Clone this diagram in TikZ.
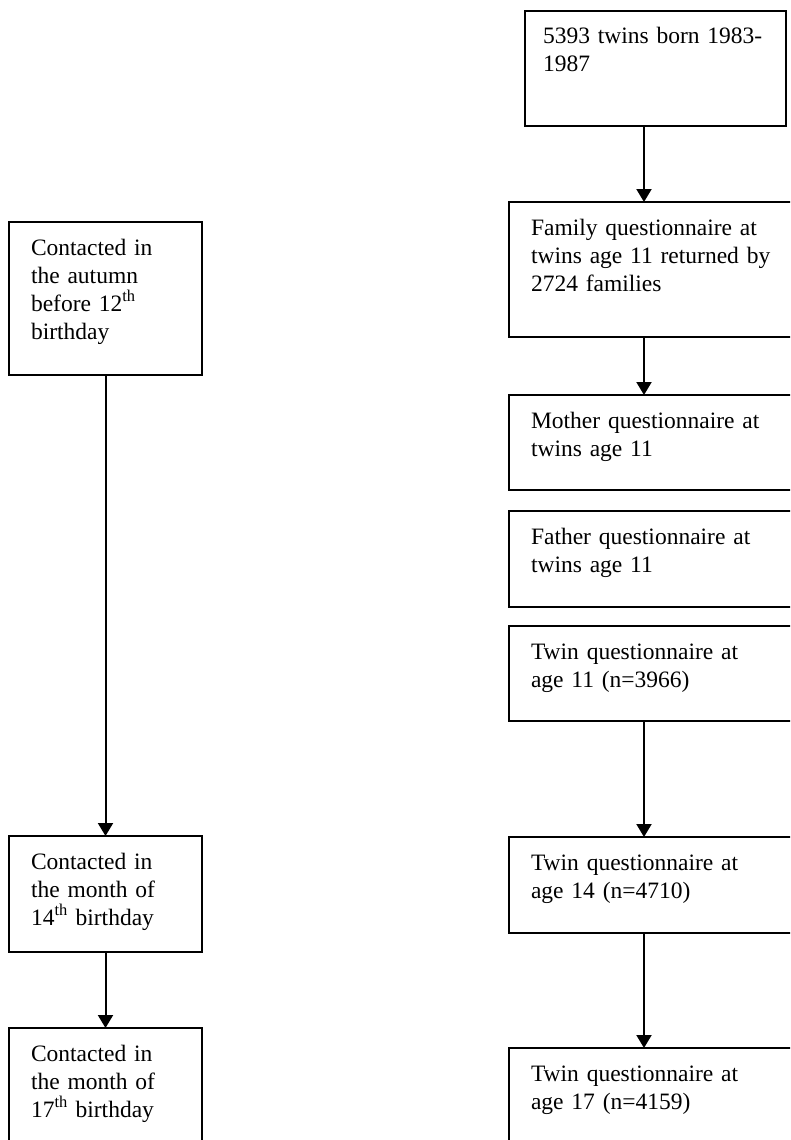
\documentclass[tikz,border=0pt]{standalone}
\usepackage{fontspec}
\setmainfont{Liberation Serif}
\usetikzlibrary{arrows.meta}

\begin{document}
\begin{tikzpicture}[
  x=1pt, y=-1pt,
  >={Triangle[width=15pt,length=13pt]},
  stage/.style={draw,line width=2pt,anchor=north west,align=left,
                font=\fontsize{23.5}{28}\selectfont,inner ysep=0pt,
                outer sep=0pt,text height=33pt},
  rbox/.style={inner xsep=22pt,text width=247pt},
  lbox/.style={inner xsep=22pt,text width=149pt},
  link/.style={->,line width=2pt},
]

\useasboundingbox (0,0) rectangle (790,1140);
\clip (0,0) rectangle (790,1140);

% right column: the sample
\node[stage,inner xsep=18pt,text width=225pt,text depth=82pt] (born) at (525,11)
  {\mbox{5393 twins born 1983-}\\1987};
\node[stage,rbox,text depth=102pt] (family) at (509,202)
  {Family questionnaire at\\twins age 11 returned by\\2724 families};
\node[stage,rbox,text depth=62pt] (mother) at (509,395)
  {Mother questionnaire at\\twins age 11};
\node[stage,rbox,text depth=63pt] (father) at (509,511)
  {Father questionnaire at\\twins age 11};
\node[stage,rbox,text depth=62pt] (twin11) at (509,626)
  {Twin questionnaire at\\age 11 (n=3966)};
\node[stage,rbox,text depth=63pt] (twin14) at (509,837)
  {Twin questionnaire at\\age 14 (n=4710)};
\node[stage,rbox,text depth=110pt] (twin17) at (509,1048)
  {Twin questionnaire at\\age 17 (n=4159)};

% left column: when they were contacted
\node[stage,lbox,text depth=120pt] (contact12) at (9,222)
  {Contacted in\\the autumn\\before 12\textsuperscript{th}\\birthday};
\node[stage,lbox,text depth=83pt] (contact14) at (9,836)
  {Contacted in\\the month of\\14\textsuperscript{th} birthday};
\node[stage,lbox,text depth=110pt] (contact17) at (9,1028)
  {Contacted in\\the month of\\17\textsuperscript{th} birthday};

\coordinate (spine) at (644,0);

\draw[link] (born.south -| spine) -- (family.north -| spine);
\draw[link] (family.south -| spine) -- (mother.north -| spine);
\draw[link] (twin11.south -| spine) -- (twin14.north -| spine);
\draw[link] (twin14.south -| spine) -- (twin17.north -| spine);

\draw[link] (contact12) -- (contact14);
\draw[link] (contact14) -- (contact17);

\end{tikzpicture}
\end{document}
